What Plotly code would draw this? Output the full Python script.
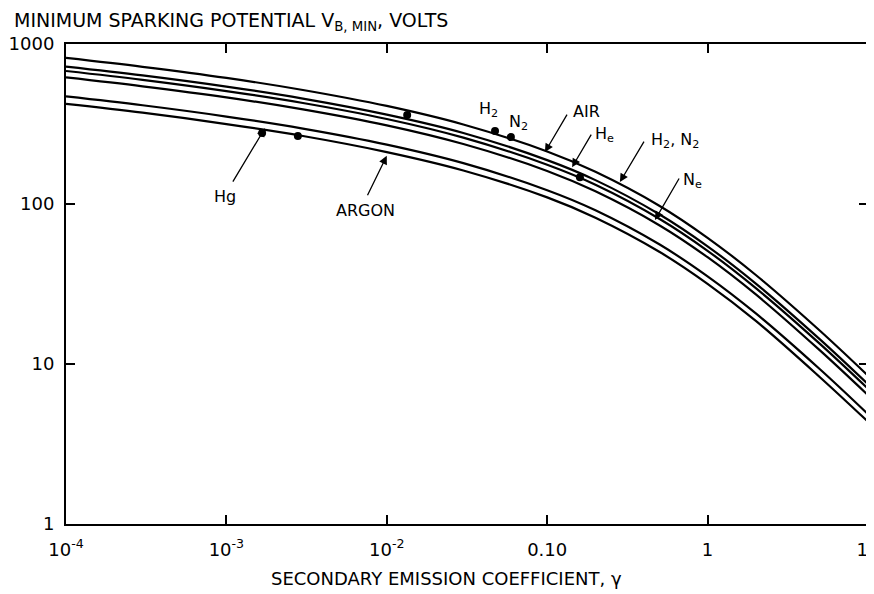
import math
import plotly.graph_objects as go

# ---- data ----
gamma = [1e-4, 3e-4, 1e-3, 3e-3, 1e-2, 3e-2, 0.1, 0.2, 0.5, 1, 2, 5, 10]
v_h2_air = [818, 720, 614, 516, 410, 314, 213, 159, 97.6, 61.5, 36.0, 16.2, 8.46]
v_he = [723, 637, 542, 456, 362, 278, 188, 141, 86.3, 54.4, 31.8, 14.3, 7.48]
v_n2 = [678, 597, 508, 428, 340, 260, 176, 132, 80.9, 51.0, 29.8, 13.4, 7.01]
v_ne = [618, 544, 464, 390, 310, 237, 161, 120, 73.7, 46.5, 27.2, 12.2, 6.39]
v_hg = [470, 414, 352, 296, 235, 180, 122, 91.4, 56.0, 35.3, 20.7, 9.3, 4.86]
v_argon = [422, 372, 316, 266, 211, 162, 110, 82.1, 50.3, 31.7, 18.6, 8.3, 4.36]

point_gamma = [0.0134, 0.0473, 0.0594, 0.00167, 0.00279, 0.160]
point_v = [360, 286, 262, 278, 266, 147]

x_tickvals = [1e-4, 1e-3, 1e-2, 0.1, 1, 10]
x_ticktext = ["10<sup>-4</sup>", "10<sup>-3</sup>", "10<sup>-2</sup>", "0.10", "1", "10"]
y_tickvals = [1, 10, 100, 1000]
y_ticktext = ["1", "10", "100", "1000"]

curves = [
    ("H2 / Air", v_h2_air),
    ("He", v_he),
    ("N2", v_n2),
    ("Ne", v_ne),
    ("Hg", v_hg),
    ("Argon", v_argon),
]

FONT = "DejaVu Sans"

fig = go.Figure()
for name, vals in curves:
    fig.add_trace(go.Scatter(
        x=gamma, y=vals, mode="lines", name=name,
        line=dict(color="black", width=2.2, shape="spline", smoothing=1.0),
        showlegend=False, hoverinfo="skip",
    ))

fig.add_trace(go.Scatter(
    x=point_gamma, y=point_v, mode="markers",
    marker=dict(color="black", size=8), showlegend=False, hoverinfo="skip",
))

L = math.log10
annotations = []

# arrows: (tip gamma, tip V, ax px, ay px)
arrows = [
    (1.74e-3, 298, -33, 55),   # Hg
    (0.0100, 200, -20, 41),    # ARGON
    (0.0968, 211, 23, -39),    # AIR
    (0.143, 170, 20, -34),     # He
    (0.284, 137, 25, -42),     # H2, N2
    (0.47, 79.4, 25, -43),     # Ne
]
for gx, vy, ax, ay in arrows:
    annotations.append(dict(
        x=L(gx), y=L(vy), xref="x", yref="y", text="", showarrow=True,
        ax=ax, ay=ay, axref="pixel", ayref="pixel",
        arrowhead=2, arrowsize=1.3, arrowwidth=1.3, arrowcolor="black",
        standoff=0, startstandoff=0,
    ))

labels = [
    ("Hg", 9.8e-4, 112),
    ("ARGON", 7.4e-3, 91.7),
    ("H<sub>2</sub>", 0.0428, 387),
    ("N<sub>2</sub>", 0.0658, 325),
    ("AIR", 0.177, 376),
    ("H<sub>e</sub>", 0.229, 270),
    ("H<sub>2</sub>, N<sub>2</sub>", 0.626, 251),
    ("N<sub>e</sub>", 0.81, 141),
]
for txt, gx, vy in labels:
    annotations.append(dict(
        x=L(gx), y=L(vy), xref="x", yref="y", text=txt, showarrow=False,
        xanchor="center", yanchor="middle",
        font=dict(family=FONT, size=16, color="black"),
    ))

# axis titles (paper coords relative to the 802x480 plot area)
annotations.append(dict(
    x=(12 - 66) / 802, y=1 + (44 - 21) / 480, xref="paper", yref="paper",
    text="MINIMUM SPARKING POTENTIAL V<sub>B, MIN</sub>, VOLTS",
    showarrow=False, xanchor="left", yanchor="middle",
    font=dict(family=FONT, size=19, color="black"),
))
annotations.append(dict(
    x=(446 - 66) / 802, y=-(578 - 524) / 480, xref="paper", yref="paper",
    text="SECONDARY EMISSION COEFFICIENT, γ",
    showarrow=False, xanchor="center", yanchor="middle",
    font=dict(family=FONT, size=18, color="black"),
))

axis_common = dict(
    type="log", showgrid=False, zeroline=False, automargin=False,
    showline=True, linecolor="black", linewidth=2, mirror="ticks",
    ticks="inside", ticklen=9, tickwidth=1.5, tickcolor="black",
    tickfont=dict(family=FONT, size=18, color="black"),
    minor=dict(showgrid=False, ticks=""),
)

# the page body has an 8px margin; size the figure so the plot area
# sits at x 66..868, y 44..524 in the browser window
fig.update_layout(
    width=866, height=586,
    margin=dict(l=58, r=6, t=36, b=70, autoexpand=False),
    paper_bgcolor="white", plot_bgcolor="white",
    xaxis=dict(range=[-4, 1.0003], tickvals=x_tickvals, ticktext=x_ticktext,
               ticklabelstandoff=8, ticklabeloverflow="allow", **axis_common),
    yaxis=dict(range=[0, 3], tickvals=y_tickvals, ticktext=y_ticktext,
               ticklabelstandoff=6, **axis_common),
    annotations=annotations,
)

fig.write_html("out.html")
